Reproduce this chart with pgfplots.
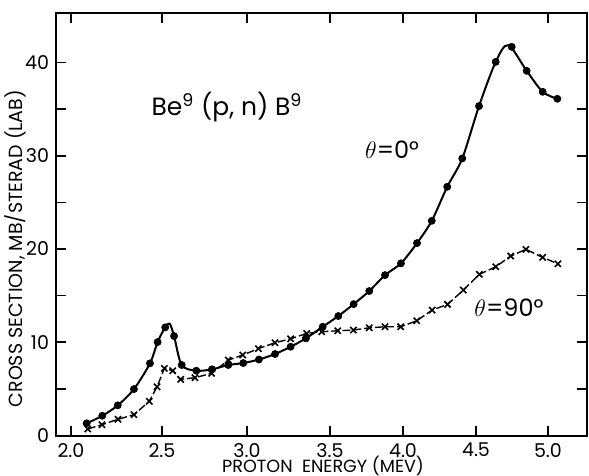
\documentclass[border=0pt]{standalone}
\usepackage{fontspec}
\setmainfont{Poppins}
\usepackage{pgfplots}
\usepackage{pgfplotstable}
\pgfplotsset{compat=1.18}

% theta = 0 deg, measured points
\pgfplotstableread{
E sigma
2.086 1.31
2.172 2.12
2.257 3.24
2.346 4.98
2.434 7.74
2.476 10.02
2.519 11.60
2.571 10.66
2.616 7.56
2.702 6.95
2.794 7.10
2.890 7.56
2.978 7.77
3.072 8.15
3.169 8.74
3.263 9.52
3.355 10.42
3.456 11.66
3.557 12.81
3.662 14.09
3.769 15.49
3.877 17.20
3.986 18.46
4.096 20.63
4.197 23.02
4.303 26.67
4.406 29.71
4.521 35.32
4.637 40.06
4.748 41.67
4.852 39.10
4.963 36.85
5.065 36.10
}\zerodeg

% theta = 0 deg, drawn curve
\pgfplotstableread{
E sigma
2.086 1.31
2.172 2.12
2.257 3.24
2.346 4.98
2.434 7.74
2.476 10.02
2.519 11.60
2.545 12.00
2.571 10.66
2.616 7.56
2.702 6.95
2.794 7.10
2.890 7.56
2.978 7.77
3.072 8.15
3.169 8.74
3.263 9.52
3.355 10.42
3.456 11.66
3.557 12.81
3.662 14.09
3.769 15.49
3.877 17.20
3.986 18.46
4.096 20.63
4.197 23.02
4.303 26.67
4.406 29.71
4.521 35.32
4.637 40.06
4.724 41.85
4.852 39.10
4.963 36.85
5.065 36.10
}\zerocurve

% theta = 90 deg
\pgfplotstableread{
E sigma
2.092 0.70
2.170 1.16
2.258 1.74
2.346 2.23
2.430 3.67
2.473 5.23
2.514 7.20
2.563 6.95
2.610 6.02
2.694 6.20
2.792 6.67
2.890 8.09
2.975 8.63
3.069 9.32
3.169 9.95
3.263 10.37
3.360 10.95
3.450 11.13
3.553 11.23
3.660 11.31
3.769 11.55
3.877 11.66
3.984 11.66
4.094 12.30
4.200 13.45
4.305 14.06
4.413 15.59
4.523 17.28
4.637 18.09
4.741 19.24
4.847 19.96
4.963 19.10
5.069 18.41
}\ninetydeg

\begin{document}
\begin{tikzpicture}
\begin{axis}[
  scale only axis, width=265.5pt, height=211.5pt,
  % the printed energy scale is not uniform: piecewise linear map
  x coord trafo/.code={\pgfmathparse{#1<2.5 ? 71+(#1-2)*182 : (#1<3 ? 162+(#1-2.5)*170 : (#1<3.5 ? 247+(#1-3)*166 : (#1<4 ? 330+(#1-3.5)*146 : (#1<4.5 ? 403+(#1-4)*146 : 476+(#1-4.5)*144))))}},
  xmin=1.9176, xmax=5.271, ymin=-0.05, ymax=45.3,
  xtick={2,2.5,3,3.5,4,4.5,5},
  xticklabels={2.0,2.5,3.0,3.5,4.0,4.5,5.0},
  ytick={0,10,20,30,40},
  minor ytick={5,15,25,35},
  tick align=inside, tick pos=both,
  major tick length=5pt, minor tick length=5pt,
  every tick/.style={black, line width=0.8pt},
  axis line style={line width=0.9pt},
  ticklabel style={font=\fontsize{9.5}{11}\selectfont},
  /pgf/number format/assume math mode=true,
  xlabel={PROTON\ \ ENERGY (MEV)},
  ylabel={CROSS SECTION, MB/STERAD (LAB)},
  every axis x label/.style={at={(rel axis cs:0.503,0)}, yshift=-14.8pt, anchor=center,
    font=\fontsize{8.8}{10}\selectfont},
  every axis y label/.style={at={(rel axis cs:0,0.443)}, xshift=-20.5pt, rotate=90, anchor=center,
    font=\fontsize{9.5}{11}\selectfont},
]
\addplot[black, line width=1pt, smooth, no marks] table[x=E, y=sigma] {\zerocurve};
\addplot[black, only marks, mark=*, mark size=1.75pt] table[x=E, y=sigma] {\zerodeg};
\addplot[black, line width=0.7pt, dash pattern=on 4pt off 1.5pt, mark=x, mark size=2.2pt,
  mark options={solid, line width=0.8pt}] table[x=E, y=sigma] {\ninetydeg};

\node[font=\fontsize{12.5}{14}\selectfont] at (rel axis cs:0.322,0.778) {Be\textsuperscript{9} (p, n) B\textsuperscript{9}};
\node[font=\fontsize{12}{14}\selectfont] at (rel axis cs:0.633,0.676) {$\theta$=0°};
\node[font=\fontsize{12}{14}\selectfont] at (rel axis cs:0.853,0.303) {$\theta$=90°};
\coordinate (ll) at (rel axis cs:0,0);
\coordinate (ur) at (rel axis cs:1,1);
\end{axis}
\pgfresetboundingbox
\path[use as bounding box] ([shift={(-28pt,-20pt)}]ll) rectangle ([shift={(1pt,6.5pt)}]ur);
\end{tikzpicture}
\end{document}
